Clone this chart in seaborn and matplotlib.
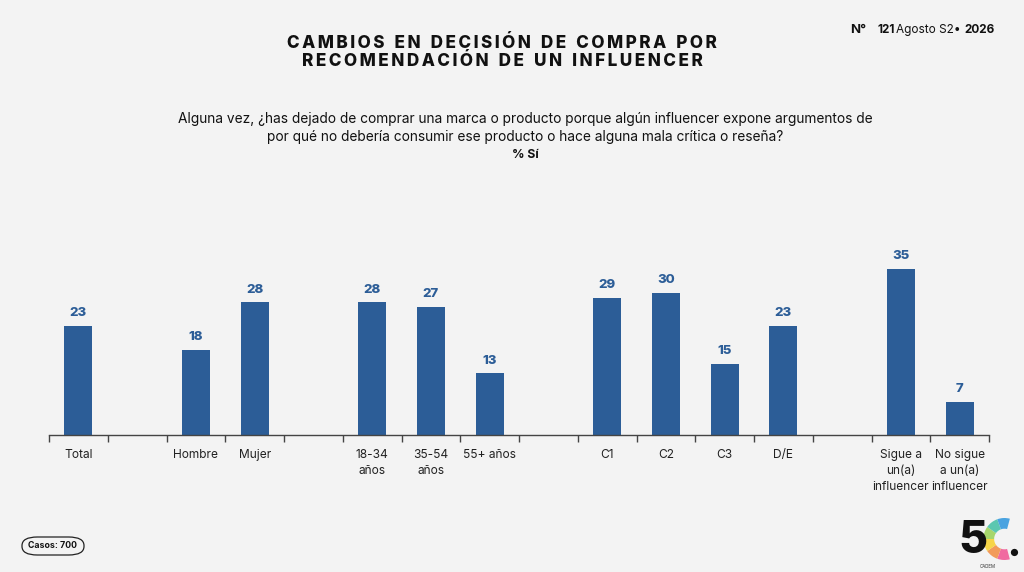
import numpy as np
import pandas as pd
import seaborn as sns
import matplotlib.pyplot as plt
from matplotlib.patches import FancyBboxPatch, Wedge

# categories (blank names are the empty slots between groups)
categorias = ['Total', ' ', 'Hombre', 'Mujer', '  ', '18-34\naños', '35-54\naños', '55+ años',
              '   ', 'C1', 'C2', 'C3', 'D/E', '    ', 'Sigue a\nun(a)\ninfluencer',
              'No sigue\na un(a)\ninfluencer']
valores = [23, np.nan, 18, 28, np.nan, 28, 27, 13, np.nan, 29, 30, 15, 23, np.nan, 35, 7]

azul = '#2c5d97'
fondo = '#f3f3f3'

df = pd.DataFrame({'cat': categorias, 'val': valores})

sns.set_theme(style='white')
plt.rcParams['font.family'] = ['Inter', 'DejaVu Sans']

fig = plt.figure(figsize=(10.24, 5.72), dpi=100)
fig.patch.set_facecolor(fondo)
ax = fig.add_axes([49 / 1024, 1 - 435 / 572, 940 / 1024, 189.6 / 572])
ax.set_facecolor('none')

sns.barplot(data=df.dropna(), x='cat', y='val', order=categorias, color=azul,
            width=0.48, saturation=1, linewidth=0, ax=ax)

for i, v in enumerate(valores):
    if not np.isnan(v):
        ax.text(i, v + 1.4, f'{int(v)}', ha='center', va='bottom', color=azul,
                fontsize=9.5, fontweight='heavy')

ax.set_xlim(-0.5, len(categorias) - 0.5)
ax.set_ylim(0, 40)
ax.set_xlabel('')
ax.set_ylabel('')
ax.set_yticks([])
for s in ['top', 'right', 'left']:
    ax.spines[s].set_visible(False)
ax.spines['bottom'].set_color('#444444')
ax.spines['bottom'].set_linewidth(1)
ax.set_xticks(range(len(categorias)))
ax.set_xticklabels(categorias, fontsize=8.6, color='#222222', linespacing=1.45, va='top')
ax.set_xticks(np.arange(-0.5, len(categorias), 1), minor=True)
ax.tick_params(axis='x', which='major', length=0, pad=10)
ax.tick_params(axis='x', which='minor', length=5, width=1, color='#444444', bottom=True)

# titles
titulo = ['CAMBIOS EN DECISIÓN DE COMPRA POR', 'RECOMENDACIÓN DE UN INFLUENCER']
for k, t in enumerate(titulo):
    fig.text(502 / 1024, 1 - (43 + k * 19) / 572, '\u2009'.join(t).replace(' \u2009', '  '),
             ha='center', va='center', fontsize=12.3, fontweight='heavy', color='#111111')

pregunta = ('Alguna vez, ¿has dejado de comprar una marca o producto porque algún influencer expone argumentos de\n'
            'por qué no debería consumir ese producto o hace alguna mala crítica o reseña?')
fig.text(525 / 1024, 1 - 128 / 572, pregunta, ha='center', va='center', fontsize=9.9,
         color='#111111', linespacing=1.45)
fig.text(525 / 1024, 1 - 155 / 572, '% Sí', ha='center', va='center', fontsize=8.8,
         fontweight='bold', color='#111111')

# header, pieces placed one after the other
piezas = [('N°', 'bold', 9.5, 11), ('121', 'bold', 8.5, 1), ('Agosto S2•', 'normal', 8.5, 4),
          ('2026', 'bold', 8.5, 0)]
renderer = fig.canvas.get_renderer()
xpos = 850
for texto, peso, tam, hueco in piezas:
    t = fig.text(xpos / 1024, 1 - 30 / 572, texto, ha='left', va='center', fontsize=tam,
                 fontweight=peso, color='#111111')
    xpos += t.get_window_extent(renderer).width + hueco

# casos box
fig.patches.append(FancyBboxPatch((22 / 1024, 1 - 555 / 572), 62 / 1024, 18 / 572,
                                  boxstyle='round,pad=0,rounding_size=0.015',
                                  transform=fig.transFigure, facecolor='none',
                                  edgecolor='#222222', linewidth=0.9))
fig.text(53 / 1024, 1 - 546 / 572, 'Casos: 700', ha='center', va='center', fontsize=6.3,
         fontweight='bold', color='#111111')

# logo
fig.text(973 / 1024, 1 - 541 / 572, '5', ha='center', va='center', fontsize=32,
         fontweight='heavy', color='#111111')
lax = fig.add_axes([983 / 1024, 1 - 562 / 572, 30 / 1024, 46 / 572])
lax.set_xlim(-0.7, 0.7)
lax.set_ylim(-1.07, 1.07)
lax.set_aspect('equal')
lax.axis('off')
colores_logo = ['#f06aa0', '#f29b5a', '#f6d548', '#a6d66b', '#5cc7b0', '#4aa3e0']
angulos = np.linspace(285, 75, 7)
for c, a1, a2 in zip(colores_logo, angulos[:-1], angulos[1:]):
    lax.add_patch(Wedge((0.3, 0), 0.98, a2, a1, width=0.5, facecolor=c, edgecolor='none'))
fig.text(1014 / 1024, 1 - 553 / 572, '●', ha='center', va='center', fontsize=7, color='#111111')
fig.text(988 / 1024, 1 - 566 / 572, 'CADEM', ha='center', va='center', fontsize=3.2, color='#333333')

fig.savefig('out.png', dpi=100, facecolor=fondo)
